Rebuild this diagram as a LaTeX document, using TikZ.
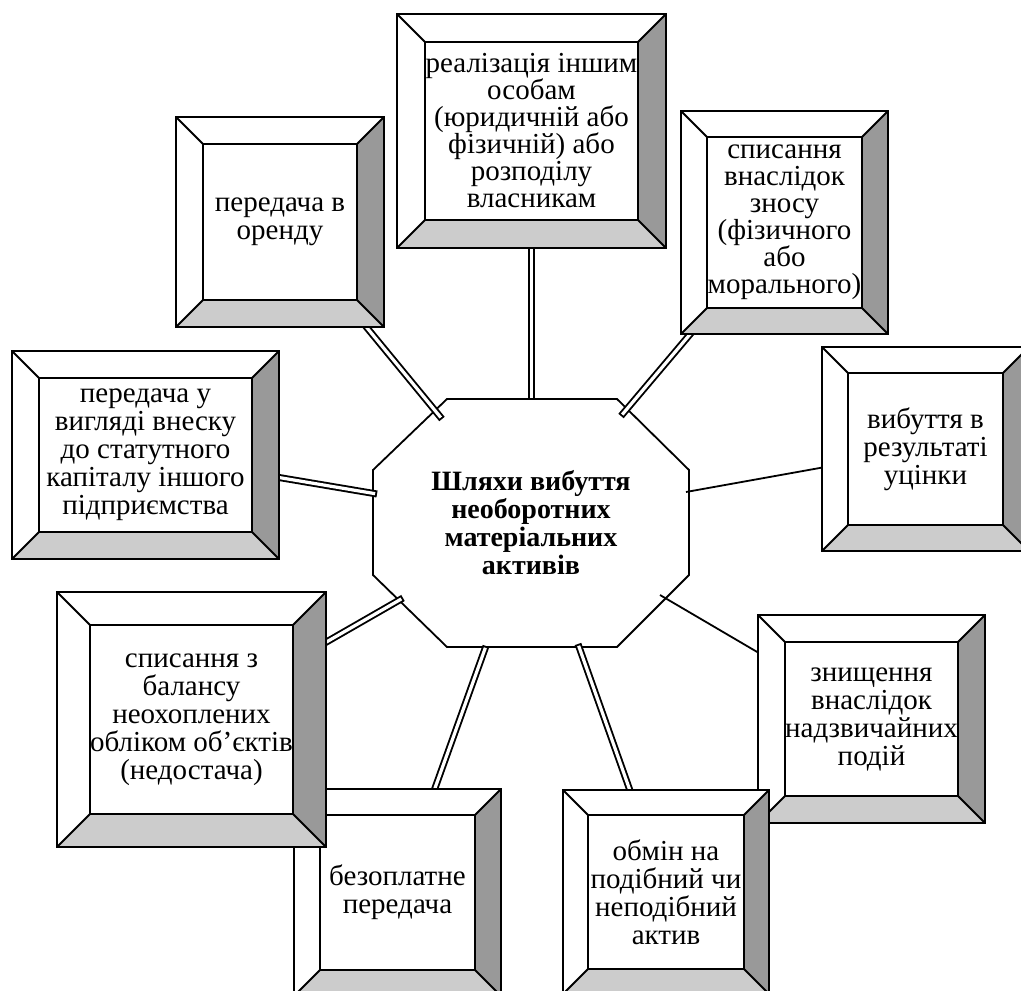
\documentclass[tikz,border=0pt]{standalone}
\usepackage{fontspec}
\setmainfont{Liberation Serif}
\usetikzlibrary{calc,backgrounds}

\definecolor{bevdark}{HTML}{999999}
\definecolor{bevlight}{HTML}{CCCCCC}

% bevelled frame round a node: #1 node name, #2 frame width
\newcommand{\bevelbox}[2]{%
  \coordinate (#1-p) at ([xshift=-#2,yshift=#2]#1.north west);
  \coordinate (#1-q) at ([xshift=#2,yshift=#2]#1.north east);
  \coordinate (#1-r) at ([xshift=#2,yshift=-#2]#1.south east);
  \coordinate (#1-s) at ([xshift=-#2,yshift=-#2]#1.south west);
  \fill[white, even odd rule] (#1-p) rectangle (#1-r) (#1.north west) rectangle (#1.south east);
  \fill[bevdark] (#1-q) -- (#1-r) -- (#1.south east) -- (#1.north east) -- cycle;
  \fill[bevlight] (#1-s) -- (#1-r) -- (#1.south east) -- (#1.south west) -- cycle;
  \draw[edge] (#1-p) rectangle (#1-r)
    (#1-p) -- (#1.north west) (#1-q) -- (#1.north east)
    (#1-r) -- (#1.south east) (#1-s) -- (#1.south west);
  \draw[edge] (#1.north west) rectangle (#1.south east);
}

\begin{document}
\begin{tikzpicture}[x=1pt, y=-1pt,
    panel/.style={rectangle, draw, fill=white, line width=1.8pt, outer sep=0pt, inner sep=0pt, align=center, font=\fontsize{29}{28}\selectfont},
    tight/.style={font=\fontsize{29}{27}\selectfont},
    hubtext/.style={align=center, font=\fontsize{28}{28}\selectfont\bfseries},
    edge/.style={line width=1.8pt},
    linkout/.style={line width=7pt},
    linkin/.style={white, line width=3.2pt, shorten >=1.9pt},
    tie/.style={line width=1.8pt}]

    \useasboundingbox (0,0) rectangle (1021,991);
    \clip (0,0) rectangle (1021,991);

    \node[panel, minimum width=154pt, minimum height=156pt] (oren) at (280,222) {передача в\\оренду};
    \bevelbox{oren}{27pt}
    \node[panel, tight, minimum width=213pt, minimum height=178pt] (real) at (531.5,131) {реалізація іншим\\особам\\(юридичній або\\фізичній) або\\розподілу\\власникам};
    \bevelbox{real}{28pt}
    \node[panel, tight, minimum width=155pt, minimum height=171pt] (znos) at (784.5,222.5) {списання\\внаслідок\\зносу\\(фізичного\\або\\морального)};
    \bevelbox{znos}{26pt}
    \node[panel, minimum width=155pt, minimum height=152pt] (vybut) at (925.5,449) {вибуття в\\результаті\\уцінки};
    \bevelbox{vybut}{26pt}
    \node[panel, minimum width=213pt, minimum height=154pt] (vnesok) at (145.5,455) {передача у\\вигляді внеску\\до статутного\\капіталу іншого\\підприємства};
    \bevelbox{vnesok}{27pt}
    \node[panel, minimum width=155pt, minimum height=155pt] (bezopl) at (397.5,892.5) {безоплатне\\передача};
    \bevelbox{bezopl}{26pt}
    \node[panel, minimum width=203pt, minimum height=189pt] (balans) at (191.5,719.5) {списання з\\балансу\\неохоплених\\обліком об’єктів\\(недостача)};
    \bevelbox{balans}{33pt}
    \node[panel, minimum width=173pt, minimum height=154pt] (znyshch) at (871.5,719) {знищення\\внаслідок\\надзвичайних\\подій};
    \bevelbox{znyshch}{27pt}
    \node[panel, minimum width=156pt, minimum height=154pt] (obmin) at (666,892) {обмін на\\подібний чи\\неподібний\\актив};
    \bevelbox{obmin}{25pt}

    \node[hubtext] (hub) at (531,523) {Шляхи вибуття\\необоротних\\матеріальних\\активів};

    \begin{scope}[on background layer]
        \draw[edge, fill=white] (447,399) -- (617,399) -- (689,470) -- (689,575) -- (617,647) -- (447,647) -- (373,575) -- (373,470) -- cycle;
        \coordinate (e-oren) at (442,419);
        \coordinate (e-real) at (531.5,400);
        \coordinate (e-znos) at (621,416);
        \coordinate (e-vnesok) at (377,494);
        \coordinate (e-balans) at (403,598);
        \coordinate (e-bezopl) at (486,646);
        \coordinate (e-obmin) at (578,644);
        \coordinate (e-vybut) at (686,492);
        \coordinate (e-znyshch) at (660,595);
        \foreach \b in {oren,real,znos,vnesok,balans,bezopl,obmin} {
            \draw[linkout] (\b.center) -- (e-\b);
            \draw[linkin] (\b.center) -- (e-\b);
        }
        \draw[tie] (vybut.center) -- (e-vybut);
        \draw[tie] (znyshch.center) -- (e-znyshch);
    \end{scope}
\end{tikzpicture}
\end{document}
